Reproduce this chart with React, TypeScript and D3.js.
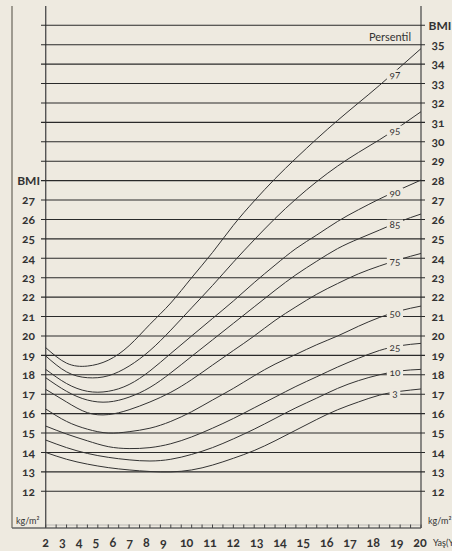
import React from "react";
import * as d3 from "d3";

// ages on the x axis (years)
const ages = [2, 3, 4, 5, 6, 7, 8, 9, 10, 11, 12, 13, 14, 15, 16, 17, 18, 19, 20];

// BMI percentile curves, one value per age
const p3 = [14.0, 13.65, 13.4, 13.22, 13.1, 13.02, 13.0, 13.1, 13.35, 13.7, 14.1, 14.6, 15.15, 15.7, 16.2, 16.6, 16.95, 17.15, 17.27];
const p10 = [14.64, 14.25, 13.95, 13.75, 13.62, 13.56, 13.65, 13.9, 14.25, 14.7, 15.2, 15.75, 16.3, 16.8, 17.3, 17.7, 18.0, 18.2, 18.28];
const p25 = [15.36, 14.95, 14.6, 14.3, 14.2, 14.25, 14.45, 14.8, 15.25, 15.75, 16.3, 16.85, 17.4, 17.9, 18.4, 18.85, 19.25, 19.5, 19.62];
const p50 = [16.24, 15.6, 15.2, 15.0, 15.07, 15.25, 15.6, 16.1, 16.7, 17.3, 17.95, 18.55, 19.05, 19.55, 20.0, 20.5, 20.95, 21.3, 21.54];
const p75 = [17.25, 16.6, 16.05, 15.95, 16.2, 16.6, 17.1, 17.75, 18.5, 19.25, 20.0, 20.8, 21.5, 22.15, 22.7, 23.2, 23.6, 23.95, 24.25];
const p85 = [17.85, 17.15, 16.7, 16.6, 16.85, 17.35, 18.1, 18.95, 19.8, 20.65, 21.5, 22.35, 23.15, 23.85, 24.5, 25.0, 25.45, 25.9, 26.28];
const p90 = [18.28, 17.55, 17.15, 17.15, 17.5, 18.2, 19.1, 20.0, 20.9, 21.8, 22.75, 23.65, 24.5, 25.2, 25.9, 26.5, 27.05, 27.55, 28.03];
const p95 = [18.97, 18.15, 17.85, 17.95, 18.45, 19.25, 20.3, 21.45, 22.6, 23.8, 24.95, 26.05, 27.05, 27.95, 28.75, 29.45, 30.1, 30.8, 31.55];
const p97 = [19.4, 18.6, 18.45, 18.75, 19.5, 20.6, 21.7, 23.0, 24.3, 25.7, 26.95, 28.1, 29.15, 30.15, 31.1, 32.0, 32.9, 33.85, 34.8];

const percentileNames = ["3", "10", "25", "50", "75", "85", "90", "95", "97"];
const percentileValues = [p3, p10, p25, p50, p75, p85, p90, p95, p97];

// tick labels
const leftTicks = [12, 13, 14, 15, 16, 17, 18, 19, 20, 21, 22, 23, 24, 25, 26, 27];
const rightTicks = [12, 13, 14, 15, 16, 17, 18, 19, 20, 21, 22, 23, 24, 25, 26, 27, 28, 29, 30, 31, 32, 33, 34, 35];
const yearLabels = ["2", "3", "4", "5", "6", "7", "8", "9", "10", "11", "12", "13", "14", "15", "16", "17", "18", "19", "20"];

const BG = "#eeeae0";
const INK = "#333";
const FONT = "Lato, 'Open Sans', sans-serif";

function Chart() {
    const width = 452
    const height = 551
    const x = d3.scaleLinear().domain([2, 20]).range([45.7, 421])
    const y = d3.scaleLinear().domain([12, 36]).range([491.3, 25.3])
    // the year labels are set as running text, wider spacing for two digits
    const xLabel = d3.scaleLinear().domain([2, 9, 20]).range([45.5, 163.3, 420])
    const line = d3.line<number>()
        .x((_, i) => x(ages[i]))
        .y(d => y(d))
        .curve(d3.curveNatural)
    const labelAge = 18.75
    const baseY = 528

    return (
        <svg width={width} height={height} style={{ position: "absolute", left: 0, top: 0, background: BG }}>
            <rect x={0} y={0} width={width} height={height} fill={BG} />
            {/* frame */}
            <line x1={12} y1={6} x2={12} y2={baseY} stroke="#8a867c" strokeWidth={1.6} />
            <line x1={x(2)} y1={6} x2={x(2)} y2={baseY} stroke="#555" strokeWidth={1.4} />
            <line x1={x(20)} y1={6} x2={x(20)} y2={baseY} stroke="#444" strokeWidth={1.2} />
            <line x1={12} y1={baseY} x2={x(20)} y2={baseY} stroke="#666" strokeWidth={1.6} />
            <line x1={x(2)} y1={baseY - 3} x2={x(20)} y2={baseY - 3} stroke="#999" strokeWidth={0.6} />
            {x.ticks(36).map(t => (
                <line key={"t" + t} x1={x(t)} y1={baseY - 3.5} x2={x(t)} y2={baseY} stroke="#444" strokeWidth={1} />
            ))}

            {/* grid */}
            {y.ticks(24).map(v => (
                <line key={"g" + v} x1={41} y1={y(v)} x2={425} y2={y(v)} stroke="#2a2a2a" strokeWidth={1.1} />
            ))}

            {/* curves */}
            {percentileValues.map((vals, i) => (
                <path key={"c" + i} d={line(vals) || ""} fill="none" stroke={INK} strokeWidth={1} />
            ))}

            {/* curve labels */}
            {percentileValues.map((vals, i) => {
                const v = d3.scaleLinear().domain(ages).range(vals)(labelAge)
                const name = percentileNames[i]
                const w = name.length * 5.6 + 5
                const cy = y(v) + (name === "97" ? 3 : 1)
                return (
                    <g key={"l" + i}>
                        <rect x={x(labelAge) - w / 2} y={cy - 5} width={w} height={10} fill={BG} />
                        <text x={x(labelAge)} y={cy} dy="0.35em" textAnchor="middle" fontSize={10}
                            fontFamily={FONT} fill={INK} style={{ fontVariantNumeric: "oldstyle-nums" }}>{name}</text>
                    </g>
                )
            })}
            <text x={411} y={41} textAnchor="end" fontSize={11} fontFamily={FONT} fill={INK}>Persentil</text>

            {/* left axis labels */}
            {leftTicks.map(v => (
                <text key={"L" + v} x={35} y={y(v)} dy="0.35em" textAnchor="end" fontSize={12} fontWeight={700}
                    fontFamily={FONT} fill={INK} style={{ fontVariantNumeric: "oldstyle-nums" }}>{v}</text>
            ))}
            <text x={40} y={y(28)} dy="0.36em" textAnchor="end" fontSize={12} fontWeight={700} fontFamily={FONT} fill={INK}>BMI</text>

            {/* right axis labels */}
            {rightTicks.map(v => (
                <text key={"R" + v} x={431.5} y={y(v)} dy="0.35em" textAnchor="start" fontSize={12} fontWeight={700}
                    fontFamily={FONT} fill={INK} style={{ fontVariantNumeric: "oldstyle-nums" }}>{v}</text>
            ))}
            <text x={428.5} y={y(36)} dy="0.36em" textAnchor="start" fontSize={12} fontWeight={700} fontFamily={FONT} fill={INK}>BMI</text>

            <text x={16} y={524} fontSize={9} fontFamily={FONT} fill={INK}>kg/m²</text>
            <text x={428} y={524} fontSize={9} fontFamily={FONT} fill={INK}>kg/m²</text>

            {/* year labels */}
            {yearLabels.map((s, i) => (
                <text key={"Y" + s} x={xLabel(ages[i])} y={543} dy="0.35em" textAnchor="middle" fontSize={12.5} fontWeight={700}
                    fontFamily={FONT} fill={INK} style={{ fontVariantNumeric: "oldstyle-nums" }}>{s}</text>
            ))}
            <text x={433} y={546} fontSize={9} fontFamily={FONT} fill={INK}>Yaş(Yıl)</text>
        </svg>
    )
}

export default function App() {
    return <Chart />
}
